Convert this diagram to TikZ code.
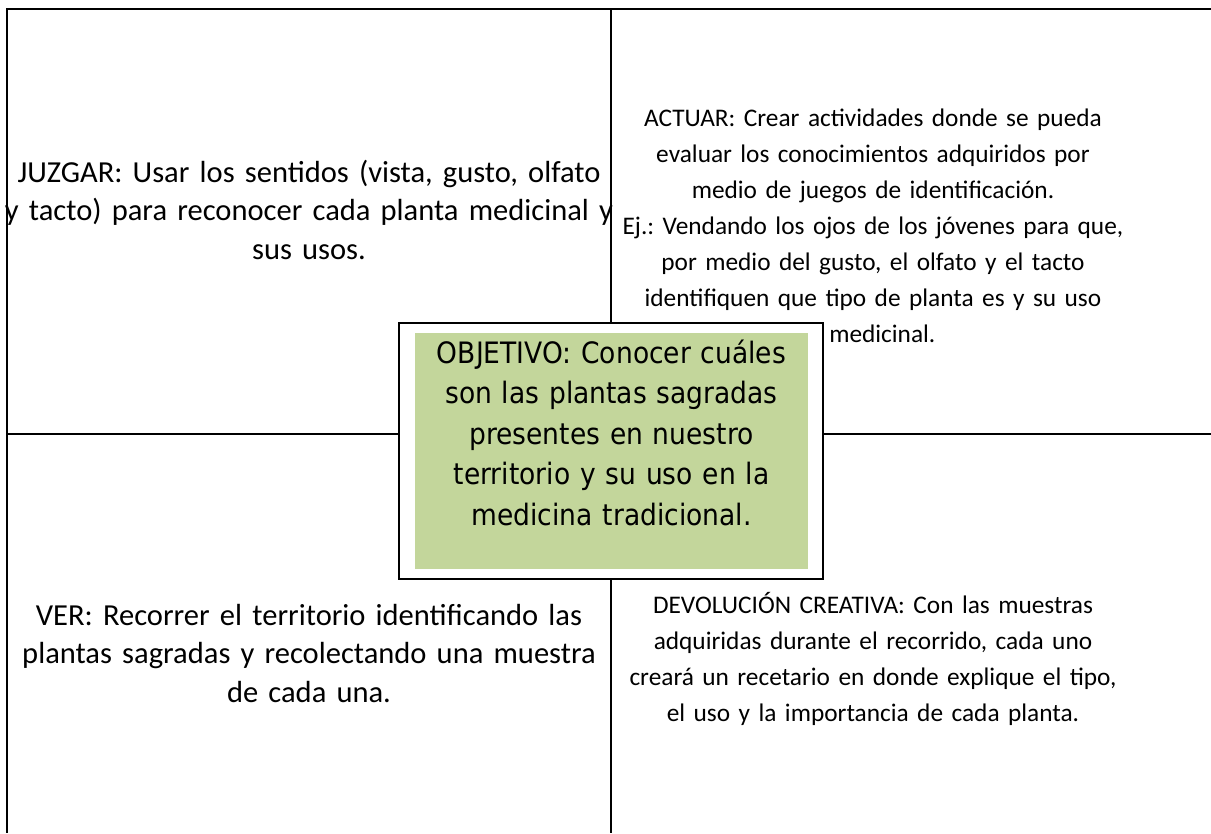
\documentclass[tikz,border=0pt]{standalone}
\usepackage{fontspec}
\setmainfont{Carlito}
\newfontfamily\objfont[FakeStretch=0.9]{DejaVu Sans}
\usetikzlibrary{positioning}

\definecolor{verdeobj}{RGB}{195,214,155}

\tikzset{
    tabla/.style={line width=1.5pt},
    celda/.style={anchor=base, text width=525pt, align=center, inner sep=0pt},
    izq/.style={celda, font=\frenchspacing\fontsize{22.9}{28.9}\selectfont},
    der/.style={celda, font=\frenchspacing\fontsize{19}{27}\selectfont},
    marco/.style={draw, fill=white, line width=1.3pt, minimum width=318pt,
        minimum height=192pt, inner sep=0pt},
    fondo/.style={fill=verdeobj, minimum width=295pt, minimum height=177pt,
        inner sep=0pt},
    objetivo/.style={anchor=base, text width=300pt, align=center, inner sep=0pt,
        font=\objfont\frenchspacing\fontsize{22.1}{30.4}\selectfont}
}

\begin{document}
\begin{tikzpicture}[x=0.75pt, y=-0.75pt]
    \useasboundingbox (0,0) rectangle (1211,833);
    \draw[tabla] (1211,9) -- (7,9) -- (7,833);
    \draw[tabla] (611,9) -- (611,833);
    \draw[tabla] (7,434) -- (1211,434);

    \node[marco] (marco) at (611,451) {};
    \node[fondo] (fondo) at (611.5,451) {};
    \node[objetivo] (obj) at (611.5,363) {OBJETIVO: Conocer cuáles\\ son las plantas sagradas\\
        presentes en nuestro\\ territorio y su uso en la\\ medicina tradicional.};

    \node[izq] (juzgar) at (309,182) {JUZGAR: Usar los sentidos (vista, gusto, olfato\\
        y tacto) para reconocer cada planta medicinal y\\ sus usos.};
    \node[der] (actuar) at (873,126) {ACTUAR: Crear actividades donde se pueda\\
        evaluar los conocimientos adquiridos por\\ medio de juegos de identificación.\\
        Ej.: Vendando los ojos de los jóvenes para que,\\ por medio del gusto, el olfato y el tacto\\
        identifiquen que tipo de planta es y su uso\\ \hspace*{14pt}medicinal.};
    \node[izq] (ver) at (309,625) {VER: Recorrer el territorio identificando las\\
        plantas sagradas y recolectando una muestra\\ de cada una.};
    \node[der] (devolucion) at (873,613) {DEVOLUCIÓN CREATIVA: Con las muestras\\
        adquiridas durante el recorrido, cada uno\\ creará un recetario en donde explique el tipo,\\
        el uso y la importancia de cada planta.};
\end{tikzpicture}
\end{document}
